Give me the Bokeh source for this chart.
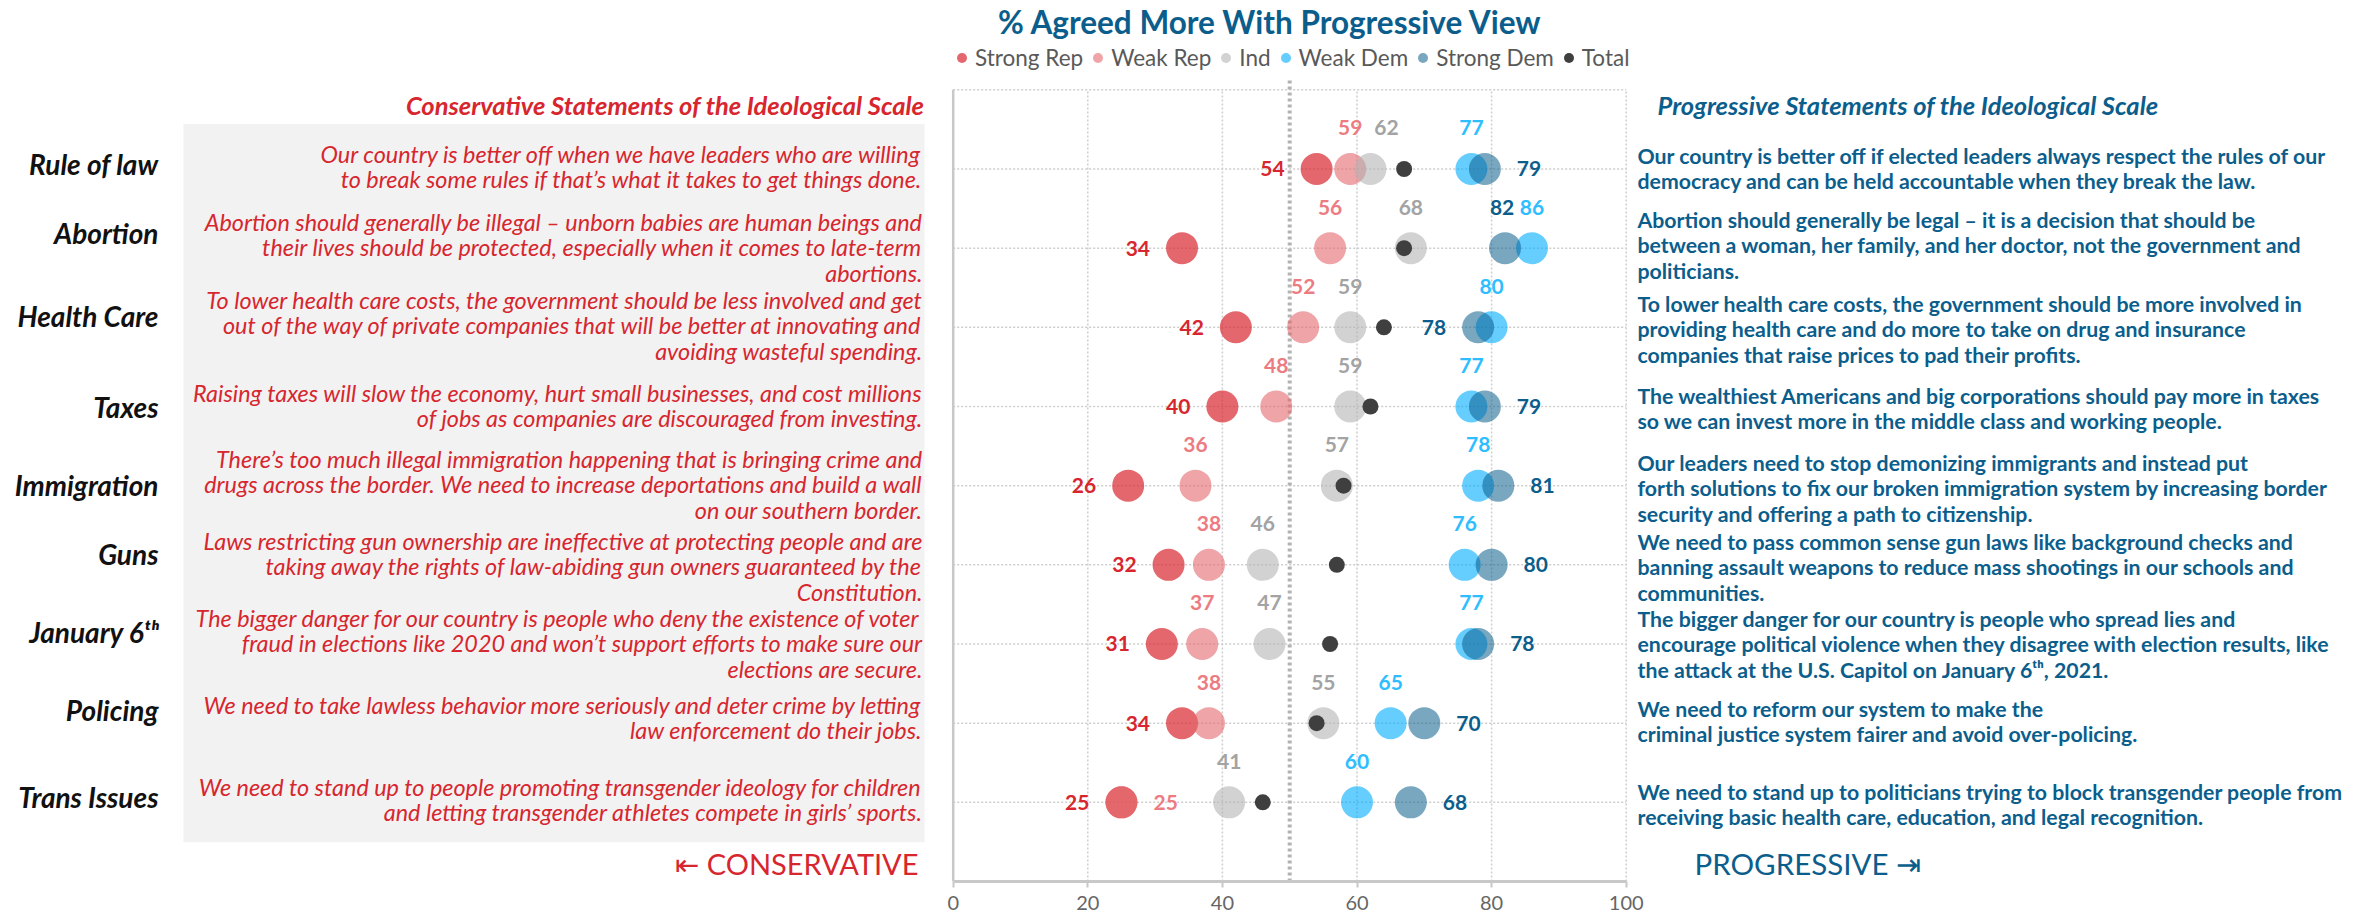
from bokeh.plotting import figure
from bokeh.models import ColumnDataSource, LinearAxis, FixedTicker, Range1d, Legend, LegendItem
from bokeh.core.properties import value, field
from bokeh.embed import file_html
from bokeh.resources import INLINE

# ---------------- data ----------------
categories = ["Rule of law", "Abortion", "Health Care", "Taxes", "Immigration",
              "Guns", "January 6\u1d57\u02b0", "Policing", "Trans Issues"]
strong_rep = [54, 34, 42, 40, 26, 32, 31, 34, 25]
weak_rep = [59, 56, 52, 48, 36, 38, 37, 38, 25]
ind = [62, 68, 59, 59, 57, 46, 47, 55, 41]
weak_dem = [77, 86, 80, 77, 78, 76, 77, 65, 60]
strong_dem = [79, 82, 78, 79, 81, 80, 78, 70, 68]
total = [67, 67, 64, 62, 58, 57, 56, 54, 46]
series_names = ["Strong Rep", "Weak Rep", "Ind", "Weak Dem", "Strong Dem", "Total"]
tick_values = [0, 20, 40, 60, 80, 100]
midpoint = 50

title_text = "% Agreed More With Progressive View"
cons_heading = "Conservative Statements of the Ideological Scale"
prog_heading = "Progressive Statements of the Ideological Scale"
cons_arrow = "\u21e4 CONSERVATIVE"
prog_arrow = "PROGRESSIVE \u21e5"

cons_statements = [
    ["Our country is better off when we have leaders who are willing",
     "to break some rules if that\u2019s what it takes to get things done."],
    ["Abortion should generally be illegal \u2013 unborn babies are human beings and",
     "their lives should be protected, especially when it comes to late-term",
     "abortions."],
    ["To lower health care costs, the government should be less involved and get",
     "out of the way of private companies that will be better at innovating and",
     "avoiding wasteful spending."],
    ["Raising taxes will slow the economy, hurt small businesses, and cost millions",
     "of jobs as companies are discouraged from investing."],
    ["There\u2019s too much illegal immigration happening that is bringing crime and",
     "drugs across the border. We need to increase deportations and build a wall",
     "on our southern border."],
    ["Laws restricting gun ownership are ineffective at protecting people and are",
     "taking away the rights of law-abiding gun owners guaranteed by the",
     "Constitution."],
    ["The bigger danger for our country is people who deny the existence of voter",
     "fraud in elections like 2020 and won\u2019t support efforts to make sure our",
     "elections are secure."],
    ["We need to take lawless behavior more seriously and deter crime by letting",
     "law enforcement do their jobs."],
    ["We need to stand up to people promoting transgender ideology for children",
     "and letting transgender athletes compete in girls\u2019 sports."],
]
prog_statements = [
    ["Our country is better off if elected leaders always respect the rules of our",
     "democracy and can be held accountable when they break the law."],
    ["Abortion should generally be legal \u2013 it is a decision that should be",
     "between a woman, her family, and her doctor, not the government and",
     "politicians."],
    ["To lower health care costs, the government should be more involved in",
     "providing health care and do more to take on drug and insurance",
     "companies that raise prices to pad their profits."],
    ["The wealthiest Americans and big corporations should pay more in taxes",
     "so we can invest more in the middle class and working people."],
    ["Our leaders need to stop demonizing immigrants and instead put",
     "forth solutions to fix our broken immigration system by increasing border",
     "security and offering a path to citizenship."],
    ["We need to pass common sense gun laws like background checks and",
     "banning assault weapons to reduce mass shootings in our schools and",
     "communities."],
    ["The bigger danger for our country is people who spread lies and",
     "encourage political violence when they disagree with election results, like",
     "the attack at the U.S. Capitol on January 6\u1d57\u02b0, 2021."],
    ["We need to reform our system to make the",
     "criminal justice system fairer and avoid over-policing."],
    ["We need to stand up to politicians trying to block transgender people from",
     "receiving basic health care, education, and legal recognition."],
]

# ---------------- layout (screen pixels of the page) ----------------
W, H = 2371, 919
MARGIN = 0
X0_PX, X100_PX = 952.7, 1625.7
Y0_PX, Y10_PX = 880.7, 89.0
ppx = (X100_PX - X0_PX) / 100.0
ppy = (Y0_PX - Y10_PX) / 10.0
frame_h = round(Y0_PX - MARGIN)
x_start = -(X0_PX - MARGIN) / ppx
x_end = x_start + W / ppx
y_end = frame_h / ppy


def X(sx):
    return (sx - X0_PX) / ppx


def Y(sy):
    return (Y0_PX - sy) / ppy


cat_label_py = [163, 232, 315, 406, 484, 553, 631, 709, 796]
cons_first_py = [153, 221, 299, 392, 458, 540, 617, 704, 786]
prog_first_py = [155, 219, 303, 395, 462, 541, 618, 708, 791]
LINE_PX = 25.5

colors = {"Strong Rep": "#D7262E", "Weak Rep": "#E4676D", "Ind": "#B4B4B4",
          "Weak Dem": "#00ABFF", "Strong Dem": "#0B5E8C", "Total": "#3F3F3F"}
alphas = {"Strong Rep": 0.7, "Weak Rep": 0.6, "Ind": 0.6,
          "Weak Dem": 0.6, "Strong Dem": 0.55, "Total": 1.0}
label_colors = {"Strong Rep": "#D7262E", "Weak Rep": "#EC7C82", "Ind": "#A3A3A3",
                "Weak Dem": "#2EBEFF", "Strong Dem": "#0B5E8C"}
default_place = {"Strong Rep": "left", "Weak Rep": "above", "Ind": "above",
                 "Weak Dem": "above", "Strong Dem": "right"}
place_override = {("Rule of law", "Ind"): ("above", 16),
                  ("Health Care", "Strong Dem"): ("left", 0),
                  ("Abortion", "Strong Dem"): ("above", -3),
                  ("Trans Issues", "Weak Rep"): ("right", 0)}

FONT = value("Lato")
BLUE = "#0B5E8C"
RED = "#D7262E"

p = figure(width=W, height=H, x_range=Range1d(x_start, x_end), y_range=Range1d(0, y_end),
           x_axis_type=None, y_axis_type=None, output_backend="svg", toolbar_location=None,
           min_border_left=0, min_border_right=0, min_border_top=0,
           min_border_bottom=H - frame_h)
p.outline_line_color = None
p.background_fill_color = "white"

n = len(categories)
row_y = [n - i for i in range(n)]

# left grey panel
p.quad(left=[X(183)], right=[X(924)], top=[Y(123.3)], bottom=[Y(841.5)],
       fill_color="#F2F2F2", line_color=None)

# grid
p.segment(x0=tick_values[1:], x1=tick_values[1:], y0=[0] * 5, y1=[10] * 5,
          line_color="#CDCDCD", line_width=1.5, line_dash="2 2")
grid_y = row_y + [10]
p.segment(x0=[0] * len(grid_y), x1=[100] * len(grid_y), y0=grid_y, y1=grid_y,
          line_color="#CDCDCD", line_width=1.5, line_dash="2 2")
p.segment(x0=[0], x1=[0], y0=[0], y1=[10], line_color="#C8C8C8", line_width=2.5)
p.segment(x0=[midpoint], x1=[midpoint], y0=[0], y1=[10.15],
          line_color="#B3B3B3", line_width=4, line_dash="3 3")

# points
series_vals = {"Strong Rep": strong_rep, "Weak Rep": weak_rep, "Ind": ind,
               "Weak Dem": weak_dem, "Strong Dem": strong_dem, "Total": total}
renderers = {}
for name in series_names:
    src = ColumnDataSource(dict(x=series_vals[name], y=row_y))
    size = 16 if name == "Total" else 32
    renderers[name] = p.scatter("x", "y", source=src, size=size, fill_color=colors[name],
                                fill_alpha=alphas[name], line_color=None)

# value labels
for name in series_names[:-1]:
    xs, ys, ts, dxs, dys, als = [], [], [], [], [], []
    for i, (c, v) in enumerate(zip(categories, series_vals[name])):
        place, nudge = place_override.get((c, name), (default_place[name], 0))
        if place == "left":
            dx, dy, al = -32 + nudge, 0, "right"
        elif place == "right":
            dx, dy, al = 32 + nudge, 0, "left"
        else:
            dx, dy, al = nudge, -41, "center"
        xs.append(v); ys.append(row_y[i]); ts.append(str(v))
        dxs.append(dx); dys.append(dy); als.append(al)
    src = ColumnDataSource(dict(x=xs, y=ys, t=ts, dx=dxs, dy=dys, al=als))
    p.text(x="x", y="y", text="t", source=src, x_offset="dx", y_offset="dy",
           text_align=field("al"), text_baseline="middle", text_font=FONT,
           text_font_style="bold", text_font_size="21px", text_color=label_colors[name])

# title
p.text(x=[X(1270)], y=[Y(21)], text=[title_text], text_align="center", text_baseline="middle",
       text_font=FONT, text_font_style="bold", text_font_size="31.5px", text_color=BLUE)

# headings
p.text(x=[X(924)], y=[Y(104)], text=[cons_heading], text_align="right", text_baseline="middle",
       text_font=FONT, text_font_style="bold italic", text_font_size="25.5px", text_color=RED)
p.text(x=[X(1657)], y=[Y(104)], text=[prog_heading], text_align="left", text_baseline="middle",
       text_font=FONT, text_font_style="bold italic", text_font_size="25.5px", text_color=BLUE)

# category labels
p.text(x=[X(158)] * n, y=[Y(v) for v in cat_label_py], text=categories,
       text_align="right", text_baseline="middle", text_font=FONT,
       text_font_style="bold italic", text_font_size="28px", text_color="#111111")

# statements
cx, cy, ct, px_, py_, pt = [], [], [], [], [], []
for i in range(n):
    for k, line in enumerate(cons_statements[i]):
        cx.append(X(922)); cy.append(Y(cons_first_py[i] + k * LINE_PX)); ct.append(line)
    for k, line in enumerate(prog_statements[i]):
        px_.append(X(1637)); py_.append(Y(prog_first_py[i] + k * LINE_PX)); pt.append(line)
p.text(x=cx, y=cy, text=ct, text_align="right", text_baseline="middle", text_font=FONT,
       text_font_style="italic", text_font_size="23.4px", text_color=RED)
p.text(x=px_, y=py_, text=pt, text_align="left", text_baseline="middle", text_font=FONT,
       text_font_style="bold", text_font_size="21.3px", text_color=BLUE)

# direction labels
p.text(x=[X(918)], y=[Y(863)], text=[cons_arrow], text_align="right", text_baseline="middle",
       text_font=FONT, text_font_size="29px", text_color=RED)
p.text(x=[X(1694)], y=[Y(863)], text=[prog_arrow], text_align="left", text_baseline="middle",
       text_font=FONT, text_font_size="29.5px", text_color=BLUE)

# x axis
ax = LinearAxis(ticker=FixedTicker(ticks=tick_values), bounds=(0, 100))
ax.axis_line_color = "#C8C8C8"
ax.axis_line_width = 3
ax.major_tick_line_color = "#C8C8C8"
ax.major_tick_line_width = 2
ax.major_tick_in = 0
ax.major_tick_out = 6
ax.minor_tick_line_color = None
ax.major_label_standoff = 8
ax.major_label_text_font = "Lato"
ax.major_label_text_font_size = "20px"
ax.major_label_text_color = "#666666"
p.add_layout(ax, "below")

# legend
legend = Legend(items=[LegendItem(label=nm, renderers=[renderers[nm]]) for nm in series_names],
                orientation="horizontal", location=(949, frame_h - 70.5),
                glyph_width=25, glyph_height=25, label_standoff=1, spacing=2,
                padding=0, margin=0, label_text_font="Lato", label_text_font_size="22.5px",
                label_text_color="#595959", background_fill_alpha=0, border_line_alpha=0)
p.add_layout(legend)

open("out.html", "w").write(file_html(p, INLINE))
